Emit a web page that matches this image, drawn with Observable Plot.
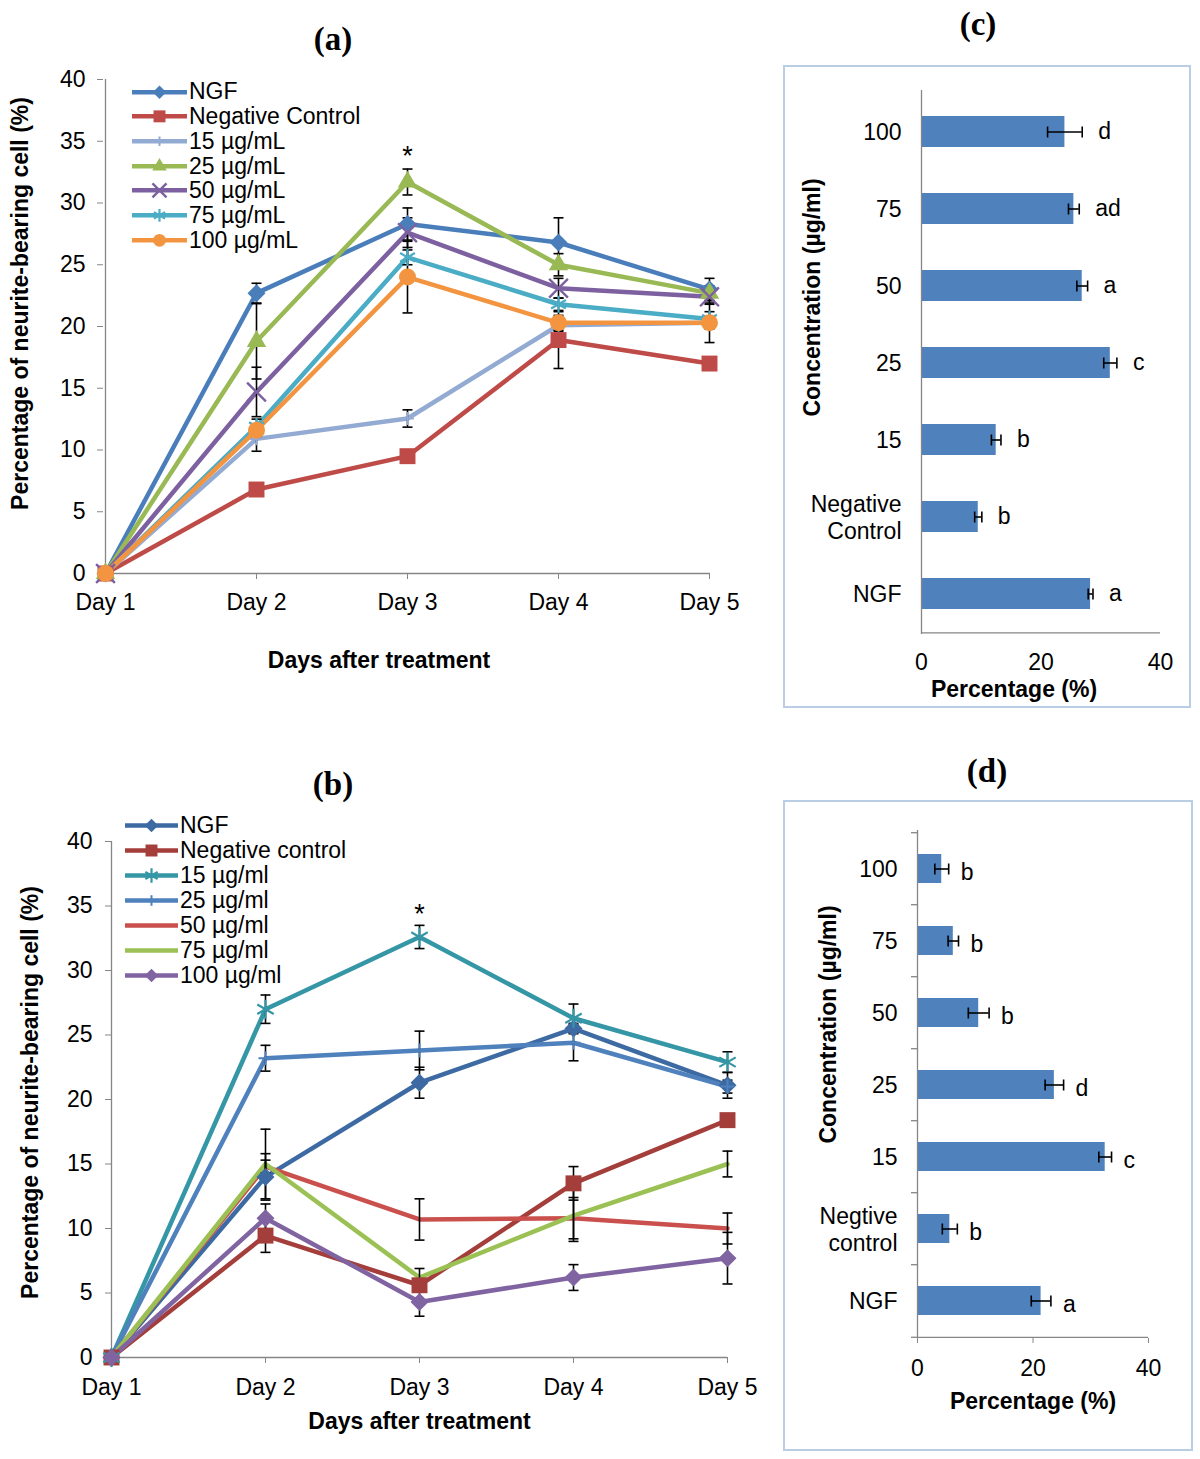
<!DOCTYPE html>
<html><head><meta charset="utf-8">
<script src="https://cdn.jsdelivr.net/npm/d3@7"></script>
<script src="https://cdn.jsdelivr.net/npm/@observablehq/plot@0.6"></script>
<style>
body{margin:0;background:#fff;font-family:"Liberation Sans",Arial,sans-serif;}
#root{position:relative;width:1200px;height:1459px;overflow:hidden;}
.title{position:absolute;font-family:"Liberation Serif","Times New Roman",serif;font-weight:bold;font-size:33px;line-height:33px;transform:translateX(-50%);white-space:nowrap;}
.box{position:absolute;border:2px solid #b9cde5;box-sizing:border-box;}
.legend{position:absolute;font-size:23px;color:#000;}
.legend .row{display:flex;align-items:center;white-space:nowrap;}
</style></head>
<body><div id="root"></div>
<script>
// ---------------- DATA ----------------
const days = ["Day 1", "Day 2", "Day 3", "Day 4", "Day 5"];

// Panel (a)
const aNames = ["NGF", "Negative Control", "15 µg/mL", "25 µg/mL", "50 µg/mL", "75 µg/mL", "100 µg/mL"];
const aNGF      = [0, 22.7, 28.3, 26.8, 23.0];
const aNeg      = [0, 6.8, 9.5, 18.9, 17.0];
const a15       = [0, 10.9, 12.55, 20.1, 20.3];
const a25       = [0, 18.8, 31.7, 25.0, 22.7];
const a50       = [0, 14.7, 27.6, 23.1, 22.4];
const a75       = [0, 11.9, 25.6, 21.8, 20.6];
const a100      = [0, 11.6, 24.0, 20.3, 20.3];
const aNGFErr   = [0, 0.8, 1.3, 2.0, 0.9];
const aNegErr   = [0, 0.4, 0.4, 2.3, 0.4];
const a15Err    = [0, 1.0, 0.7, 0.5, 0.5];
const a25Err    = [0, 3.05, 1.05, 0.9, 0.6];
const a50Err    = [0, 2.0, 1.2, 0.8, 0.6];
const a75Err    = [0, 0.6, 0.6, 0.5, 0.6];
const a100Err   = [0, 0.5, 2.9, 0.6, 1.6];

// Panel (b)
const bNames = ["NGF", "Negative control", "15 µg/ml", "25 µg/ml", "50 µg/ml", "75 µg/ml", "100 µg/ml"];
const bNGF      = [0, 14.0, 21.3, 25.5, 21.1];
const bNeg      = [0, 9.45, 5.6, 13.5, 18.4];
const b15       = [0, 27.0, 32.6, 26.3, 22.9];
const b25       = [0, 23.2, 23.8, 24.4, 21.0];
const b50       = [0, 14.8, 10.7, 10.8, 10.0];
const b75       = [0, 15.0, 6.2, 11.0, 15.0];
const b100      = [0, 10.8, 4.3, 6.2, 7.7];
const bNGFErr   = [0, 1.8, 1.2, 0.4, 1.0];
const bNegErr   = [0, 1.3, 0.4, 1.3, 0.4];
const b15Err    = [0, 1.1, 0.9, 1.1, 0.8];
const b25Err    = [0, 1.0, 1.5, 1.4, 0.5];
const b50Err    = [0, 0.5, 1.6, 1.6, 1.2];
const b75Err    = [0, 2.7, 0.7, 2.0, 1.0];
const b100Err   = [0, 1.1, 1.1, 1.0, 2.0];

const yTicks = [0, 5, 10, 15, 20, 25, 30, 35, 40];

// Panel (c) (day 3, experiment a)
const cCats    = ["100", "75", "50", "25", "15", "Negative Control", "NGF"];
const cLabels  = ["100", "75", "50", "25", "15", "Negative\nControl", "NGF"];
const cValues  = [24.0, 25.5, 26.9, 31.6, 12.5, 9.5, 28.3];
const cErrors  = [2.9, 0.9, 0.9, 1.1, 0.8, 0.6, 0.4];
const cLetters = ["d", "ad", "a", "c", "b", "b", "a"];

// Panel (d) (day 3, experiment b)
const dCats    = ["100", "75", "50", "25", "15", "Negtive control", "NGF"];
const dLabels  = ["100", "75", "50", "25", "15", "Negtive\ncontrol", "NGF"];
const dValues  = [4.2, 6.2, 10.6, 23.7, 32.5, 5.6, 21.4];
const dErrors  = [1.2, 0.9, 1.8, 1.6, 1.1, 1.3, 1.7];
const dLetters = ["b", "b", "b", "d", "c", "b", "a"];
const barTicks = [0, 20, 40];

// ---------------- STYLES ----------------
const GRAY = "#868686";
const BAR = "#4f81bd";
const FONT = "Liberation Sans, Arial, sans-serif";
const FS = 23;
const aStyles = [
  {color: "#4a7ebb", symbol: "diamond2", r: 8.1, filled: true},
  {color: "#be4b48", symbol: "square", r: 9.0, filled: true},
  {color: "#93abd3", symbol: "plus", r: 4.2, filled: false, sw: 2},
  {color: "#98b954", symbol: "triangle", r: 7.2, filled: true},
  {color: "#7d60a0", symbol: "times", r: 8.6, filled: false, sw: 2.4},
  {color: "#4aacc5", symbol: "asterisk", r: 8.1, filled: false, sw: 2.2},
  {color: "#f39441", symbol: "circle", r: 8.5, filled: true}
];
const bStyles = [
  {color: "#3d6aa3", symbol: "diamond2", r: 8.1, filled: true},
  {color: "#a43e3b", symbol: "square", r: 9.0, filled: true},
  {color: "#3596a6", symbol: "asterisk", r: 9.0, filled: false, sw: 2.2},
  {color: "#4f81bd", symbol: "plus", r: 4.6, filled: false, sw: 2},
  {color: "#c9504c", symbol: null},
  {color: "#9bc155", symbol: null},
  {color: "#8064a2", symbol: "diamond2", r: 8.1, filled: true}
];
const SYM = {diamond2: d3.symbolDiamond2, square: d3.symbolSquare, plus: d3.symbolPlus,
  triangle: d3.symbolTriangle, times: d3.symbolTimes, asterisk: d3.symbolAsterisk, circle: d3.symbolCircle};
const HCAP = {draw(ctx, size) { const w = Math.sqrt(size / Math.PI); ctx.moveTo(-w, 0); ctx.lineTo(w, 0); }};
const VCAP = {draw(ctx, size) { const w = Math.sqrt(size / Math.PI); ctx.moveTo(0, -w); ctx.lineTo(0, w); }};

const root = document.getElementById("root");
function place(node, left, top) { node.style.position = "absolute"; node.style.left = left + "px"; node.style.top = top + "px"; root.append(node); }
function title(text, cx, top) { const d = document.createElement("div"); d.className = "title"; d.textContent = text; d.style.left = cx + "px"; d.style.top = top + "px"; root.append(d); }
function box(left, top, w, h) { const d = document.createElement("div"); d.className = "box"; Object.assign(d.style, {left: left + "px", top: top + "px", width: w + "px", height: h + "px"}); root.append(d); }

function labels(cfg) {
  return [
    Plot.text([cfg.yLabel], {frameAnchor: "left", rotate: -90, dx: cfg.yLabDx, dy: cfg.yLabDy, textAnchor: "middle", lineAnchor: "middle", fontWeight: "bold", fontSize: FS}),
    Plot.text([cfg.xLabel], {frameAnchor: "bottom", dx: cfg.xLabDx, dy: cfg.xLabDy, textAnchor: "middle", lineAnchor: "middle", fontWeight: "bold", fontSize: FS})
  ];
}

function linePanel(cfg) {
  const {names, vals, errs, styles} = cfg;
  const rows = names.flatMap((name, s) => days.map((day, i) => ({s, day, v: vals[s][i], e: errs[s][i]})));
  const errRows = rows.filter(d => d.e > 0);
  const caps = errRows.flatMap(d => [{day: d.day, y: d.v - d.e}, {day: d.day, y: d.v + d.e}]);
  const marks = [
    Plot.ruleY([0], {stroke: GRAY, strokeWidth: 1.3}),
    Plot.ruleX([days[0]], {stroke: GRAY, strokeWidth: 1.3}),
    Plot.axisY({ticks: yTicks, tickSize: 6, tickPadding: cfg.yPad, stroke: GRAY, label: null}),
    Plot.axisX({tickSize: 6, tickPadding: cfg.xPad, stroke: GRAY, label: null})
  ];
  names.forEach((n, s) => marks.push(Plot.line(rows.filter(d => d.s === s), {x: "day", y: "v", stroke: styles[s].color, strokeWidth: 4.5})));
  marks.push(Plot.ruleX(errRows, {x: "day", y1: d => d.v - d.e, y2: d => d.v + d.e, stroke: "black", strokeWidth: 1.6}));
  marks.push(Plot.dot(caps, {x: "day", y: "y", symbol: HCAP, r: 5, stroke: "black", strokeWidth: 1.6, fill: "none"}));
  names.forEach((n, s) => {
    const st = styles[s];
    if (!st.symbol) return;
    const paint = st.filled ? {fill: st.color, stroke: "none"} : {stroke: st.color, strokeWidth: st.sw, fill: "none"};
    marks.push(Plot.dot(rows.filter(d => d.s === s), {x: "day", y: "v", symbol: st.symbol, r: st.r, ...paint}));
  });
  const star = rows.filter(d => d.s === cfg.starSeries && d.day === cfg.starDay).map(d => ({day: d.day, y: d.v + d.e}));
  marks.push(Plot.text(star, {x: "day", y: "y", text: () => "*", dy: cfg.starDy, fontSize: 27}));
  marks.push(...labels(cfg));
  return Plot.plot({
    width: cfg.width, height: cfg.height,
    marginLeft: cfg.ml, marginRight: cfg.mr, marginTop: cfg.mt, marginBottom: cfg.mb,
    style: {fontSize: FS + "px", fontFamily: FONT, background: "transparent", overflow: "visible", color: "black"},
    x: {type: "point", domain: days, padding: 0, axis: null},
    y: {domain: [0, 40], axis: null},
    marks
  });
}

function barPanel(cfg) {
  const rows = cfg.cats.map((c, i) => ({c, label: cfg.labels[i], v: cfg.vals[i], e: cfg.errs[i], letter: cfg.letters[i]}));
  const caps = rows.flatMap(d => [{c: d.c, x: d.v - d.e}, {c: d.c, x: d.v + d.e}]);
  const step = (cfg.height - cfg.mt - cfg.mb) / cfg.cats.length;
  const last = cfg.cats[cfg.cats.length - 1];
  const marks = [
    Plot.barX(rows, {y: "c", x: "v", fill: BAR}),
    Plot.ruleX([0], {stroke: GRAY, strokeWidth: 1.3}),
    Plot.ruleY([last], {y: d => d, dy: step / 2, stroke: GRAY, strokeWidth: 1.3}),
    Plot.ruleY(rows, {y: "c", x1: d => d.v - d.e, x2: d => d.v + d.e, stroke: "black", strokeWidth: 1.6}),
    Plot.dot(caps, {x: "x", y: "c", symbol: VCAP, r: 5.5, stroke: "black", strokeWidth: 1.6, fill: "none"}),
    Plot.text(rows, {y: "c", x: d => d.v + d.e, text: "letter", dx: cfg.letterDx, dy: cfg.letterDy, textAnchor: "start", fontSize: FS}),
    Plot.text(rows, {y: "c", frameAnchor: "left", text: "label", dx: -20, textAnchor: "end", lineAnchor: "middle", lineHeight: 1.15, fontSize: FS}),
    Plot.axisX({ticks: barTicks, tickSize: cfg.xTickSize, tickPadding: cfg.xPad, stroke: GRAY, label: null}),
    ...labels(cfg)
  ];
  if (cfg.catTicks) {
    marks.push(Plot.ruleY(cfg.cats, {y: d => d, dy: -step / 2, x1: () => 0, x2: () => 0, insetLeft: -6, stroke: GRAY, strokeWidth: 1.3}));
    marks.push(Plot.ruleY([last], {y: d => d, dy: step / 2, x1: () => 0, x2: () => 0, insetLeft: -6, stroke: GRAY, strokeWidth: 1.3}));
  }
  return Plot.plot({
    width: cfg.width, height: cfg.height,
    marginLeft: cfg.ml, marginRight: cfg.mr, marginTop: cfg.mt, marginBottom: cfg.mb,
    style: {fontSize: FS + "px", fontFamily: FONT, background: "transparent", overflow: "visible", color: "black"},
    x: {domain: [0, 40], axis: null},
    y: {type: "band", domain: cfg.cats, paddingInner: 0.6, paddingOuter: 0.3, axis: null},
    marks
  });
}

function legend(left, top, rowH, sampleW, names, styles) {
  const div = document.createElement("div");
  div.className = "legend";
  names.forEach((n, s) => {
    const st = styles[s];
    const row = document.createElement("div");
    row.className = "row"; row.style.height = rowH + "px";
    const svg = d3.create("svg").attr("width", sampleW).attr("height", rowH).style("overflow", "visible");
    svg.append("line").attr("x1", 0).attr("x2", sampleW).attr("y1", rowH / 2).attr("y2", rowH / 2)
      .attr("stroke", st.color).attr("stroke-width", 4.5);
    if (st.symbol) {
      const r = st.r * 0.75;
      svg.append("path").attr("transform", `translate(${sampleW / 2},${rowH / 2})`)
        .attr("d", d3.symbol(SYM[st.symbol], Math.PI * r * r)())
        .attr("fill", st.filled ? st.color : "none")
        .attr("stroke", st.filled ? "none" : st.color)
        .attr("stroke-width", st.sw || 0);
    }
    row.append(svg.node());
    const span = document.createElement("span");
    span.textContent = n; span.style.marginLeft = "2px";
    row.append(span);
    div.append(row);
  });
  place(div, left, top);
}

// ---------------- BUILD ----------------
title("(a)", 333, 23);
title("(c)", 978, 8);
title("(b)", 333, 768);
title("(d)", 987, 755);

box(783, 65, 408, 643);
box(783, 800, 410, 651);

place(linePanel({
  names: aNames, vals: [aNGF, aNeg, a15, a25, a50, a75, a100],
  errs: [aNGFErr, aNegErr, a15Err, a25Err, a50Err, a75Err, a100Err], styles: aStyles,
  width: 760, height: 630, ml: 103, mr: 50, mt: 19, mb: 117, yPad: 12, xPad: 14,
  starSeries: 3, starDay: "Day 3", starDy: -13,
  yLabel: "Percentage of neurite-bearing cell (%)", yLabDx: -83, yLabDy: -23,
  xLabel: "Days after treatment", xLabDx: -28, xLabDy: 87
}), 0, 60);
legend(132, 79.6, 24.7, 55, aNames, aStyles);

place(linePanel({
  names: bNames, vals: [bNGF, bNeg, b15, b25, b50, b75, b100],
  errs: [bNGFErr, bNegErr, b15Err, b25Err, b50Err, b75Err, b100Err], styles: bStyles,
  width: 770, height: 640, ml: 111, mr: 43, mt: 41, mb: 83, yPad: 13, xPad: 15,
  starSeries: 2, starDay: "Day 3", starDy: -11,
  yLabel: "Percentage of neurite-bearing cell (%)", yLabDx: -81, yLabDy: -7,
  xLabel: "Days after treatment", xLabDx: 0, xLabDy: 64
}), 0, 800);
legend(125, 812.5, 25, 53, bNames, bStyles);

place(barPanel({
  cats: cCats, labels: cLabels, vals: cValues, errs: cErrors, letters: cLetters,
  width: 407, height: 641, ml: 138, mr: 30, mt: 24, mb: 73,
  xTickSize: 0, xPad: 19, letterDx: 16, letterDy: 0, catTicks: false,
  yLabel: "Concentration (µg/ml)", yLabDx: -109, yLabDy: -65,
  xLabel: "Percentage (%)", xLabDx: -27, xLabDy: 55
}), 783, 66);

place(barPanel({
  cats: dCats, labels: dLabels, vals: dValues, errs: dErrors, letters: dLetters,
  width: 409, height: 649, ml: 134, mr: 44, mt: 29, mb: 112,
  xTickSize: 5, xPad: 16, letterDx: 12, letterDy: 4, catTicks: true,
  yLabel: "Concentration (µg/ml)", yLabDx: -89, yLabDy: -60,
  xLabel: "Percentage (%)", xLabDx: 0, xLabDy: 63
}), 783, 801);
</script>
</body></html>
